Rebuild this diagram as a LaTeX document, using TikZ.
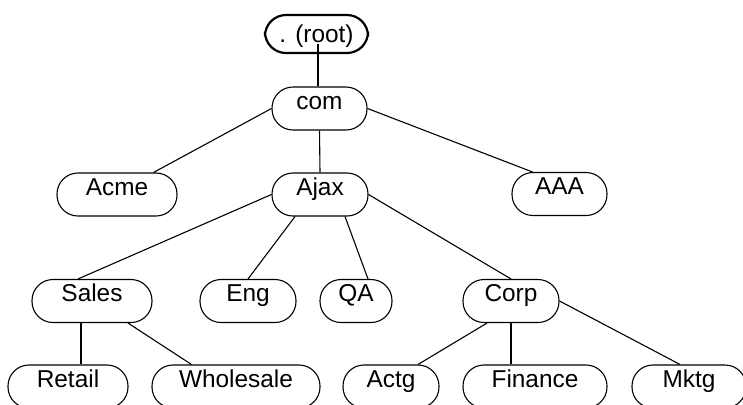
\documentclass[tikz,border=0pt]{standalone}
\usepackage{fontspec}
\setmainfont{Liberation Sans}
\usepackage{tikz}
\usetikzlibrary{calc}

\begin{document}
\begin{tikzpicture}[x=0.5pt, y=-0.5pt,
  dom/.style={draw, line width=0.55pt, rounded corners=10.5pt, inner xsep=0pt, inner ysep=0pt,
    text height=11pt, text depth=10.5pt, font=\fontsize{12.2}{14}\selectfont},
  link/.style={line width=0.55pt}]
\useasboundingbox (0,0) rectangle (743,404);
\clip (0,0) rectangle (743,404);

% Root and top level
\node[dom, line width=1.1pt, text height=13.5pt, text depth=5.5pt, minimum width=51.5pt] (root) at (316.5,34) {. (root)};
\node[dom, minimum width=47.5pt] (com) at (319.5,108.5) {com};

% Second level
\node[dom, minimum width=60pt] (acme) at (117,194.5) {Acme};
\node[dom, minimum width=48pt] (ajax) at (320,194.5) {Ajax};
\node[dom, minimum width=47.5pt] (aaa) at (559.5,194) {AAA};

% Third level
\node[dom, minimum width=60pt] (sales) at (92,301) {Sales};
\node[dom, minimum width=48pt] (eng) at (248,301) {Eng};
\node[dom, minimum width=36pt] (qa) at (356,301) {QA};
\node[dom, minimum width=48pt] (corp) at (511,301) {Corp};

% Bottom level
\node[dom, minimum width=60pt] (retail) at (68,386.5) {Retail};
\node[dom, minimum width=84pt] (wholesale) at (236,386.5) {Wholesale};
\node[dom, minimum width=48pt] (actg) at (391,386.5) {Actg};
\node[dom, minimum width=72pt] (finance) at (535,386.5) {Finance};
\node[dom, minimum width=57pt] (mktg) at (689,386.5) {Mktg\hspace{10pt}};

% Links
\coordinate (rootfoot) at ($(root.south)+(1.5,-10)$);
\draw[line width=1.1pt] (rootfoot) -- (rootfoot |- com.north);
\draw[link] (com.west) -- ($(acme.north east)+(-24,0)$);
\draw[link] (com.south) -- (ajax.north);
\draw[link] (com.east) -- ($(aaa.north west)+(21,0)$);
\draw[link] (ajax.west) -- ($(sales.north)+(-14,0)$);
\draw[link] ($(ajax.south)+(-25,0)$) -- (eng.north);
\draw[link] ($(ajax.south)+(25,0)$) -- ($(qa.north)+(12,0)$);
\draw[link] (ajax.east) -- (corp.north);
\coordinate (salesfoot) at ($(sales.south)+(-11,0)$);
\draw[link] (salesfoot) -- (salesfoot |- retail.north);
\draw[link] ($(sales.south)+(36,0)$) -- ($(wholesale.north west)+(40,0)$);
\draw[link] ($(corp.south)+(-24,0)$) -- ($(actg.north)+(27,0)$);
\draw[link] (corp.south) -- (corp.south |- finance.north);
\draw[link] (corp.east) -- ($(mktg.north)+(-9,0)$);
\end{tikzpicture}
\end{document}
